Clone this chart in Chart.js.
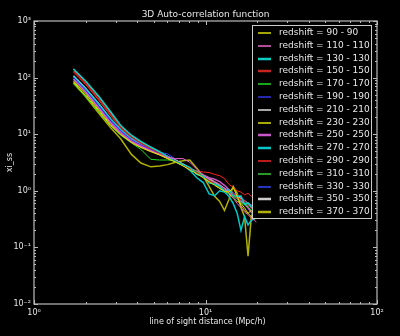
<!DOCTYPE html>
<html lang="en">
<head>
  <meta charset="UTF-8">
  <title>3D Auto-correlation function</title>
  <script src="https://cdn.jsdelivr.net/npm/chart.js"></script>
  <style>
    body { margin: 0; padding: 0; background: #000; }
    canvas { display: block; }
  </style>
</head>
<body>
  <canvas id="xiChart" width="400" height="336"></canvas>

  <script>
    // line of sight distance (Mpc/h), shared by every curve
    const distance = [1.7, 2.0, 2.4, 2.8, 3.2, 3.7, 4.2, 4.8, 5.4, 6.0, 6.7, 7.4, 8.1, 8.9,
                      9.7, 10.5, 11.3, 12.1, 12.9, 13.7, 14.5, 15.3, 16.1, 16.9, 17.7, 18.5, 19.3, 19.8];

    const redshifts = [90, 110, 130, 150, 170, 190, 210, 230, 250, 270, 290, 310, 330, 350, 370];

    // xi_ss for each redshift slice
    const xi90  = [82, 48, 25, 14.2, 9.8, 7.1, 5.8, 4.9, 4.3, 3.7, 3.2, 2.75, 2.35, 2.0, 1.7, 1.45, 1.25, 1.1, 0.98, 0.95, 1.15, 0.8, 0.55, 0.45, 0.4, 0.35, 0.36, 0.38];
    const xi110 = [92, 55, 28, 15.5, 10.2, 7.3, 6.0, 5.0, 4.4, 3.9, 3.7, 3.7, 3.2, 2.4, 1.9, 1.6, 1.45, 1.3, 1.1, 0.92, 0.75, 0.6, 0.5, 0.42, 0.38, 0.33, 0.3, 0.28];
    const xi130 = [142, 87, 46, 25, 14.4, 9.6, 7.5, 5.9, 4.9, 4.0, 3.25, 2.9, 2.6, 1.96, 1.8, 1.38, 1.32, 1.22, 1.0, 1.03, 0.82, 0.8, 0.81, 0.58, 0.61, 0.52, 0.5, 0.44];
    const xi150 = [132, 80, 41, 22, 13.5, 9.0, 7.0, 5.6, 4.7, 4.0, 3.3, 2.85, 2.45, 2.1, 1.75, 1.5, 1.35, 1.2, 1.05, 0.95, 0.88, 0.76, 0.7, 0.66, 0.56, 0.5, 0.46, 0.42];
    const xi170 = [78, 46, 24, 14, 9.6, 7.0, 5.4, 3.6, 3.5, 3.5, 3.4, 2.9, 2.5, 2.2, 1.9, 1.6, 1.3, 1.15, 1.0, 0.9, 0.8, 0.72, 0.62, 0.58, 0.52, 0.45, 0.42, 0.4];
    const xi190 = [100, 60, 31, 17.5, 11.5, 8.0, 6.5, 5.4, 4.6, 4.1, 3.4, 2.9, 2.5, 2.1, 1.8, 1.55, 1.35, 1.2, 1.1, 0.98, 0.9, 0.85, 0.78, 0.68, 0.6, 0.55, 0.5, 0.48];
    const xi210 = [140, 86, 45, 24, 14, 9.3, 7.3, 5.8, 4.8, 4.1, 3.5, 3.0, 2.55, 2.15, 1.85, 1.6, 1.4, 1.25, 1.12, 1.0, 0.9, 0.82, 0.74, 0.67, 0.6, 0.55, 0.5, 0.47];
    const xi230 = [86, 51, 26, 14.8, 10, 7.2, 5.9, 5.0, 4.3, 3.75, 3.25, 2.8, 2.45, 2.1, 1.75, 1.5, 1.3, 1.1, 1.0, 0.88, 0.75, 0.65, 0.6, 0.5, 0.4, 0.45, 0.4, 0.38];
    const xi250 = [95, 57, 29, 16, 10.8, 7.6, 6.2, 5.2, 4.5, 3.8, 3.3, 2.85, 2.5, 2.2, 1.9, 1.7, 1.6, 1.45, 1.25, 1.05, 0.9, 0.75, 0.65, 0.58, 0.5, 0.42, 0.38, 0.36];
    const xi270 = [104, 63, 33, 18.5, 12, 8.4, 7.0, 5.9, 4.8, 4.0, 3.3, 2.9, 2.3, 1.7, 1.4, 0.88, 0.82, 1.0, 0.95, 0.8, 0.6, 0.4, 0.2, 0.35, 0.25, 0.3, 0.32, 0.35];
    const xi290 = [125, 76, 39, 21, 13, 8.6, 6.8, 5.5, 4.6, 3.9, 3.3, 2.8, 2.4, 2.2, 2.15, 2.1, 1.95, 1.85, 1.65, 1.3, 1.15, 1.0, 0.95, 0.85, 0.9, 0.8, 0.7, 0.65];
    const xi310 = [88, 53, 27, 15.5, 10.4, 7.4, 6.1, 5.1, 4.4, 3.8, 3.3, 2.8, 2.4, 2.05, 1.9, 1.7, 1.45, 1.25, 1.1, 0.95, 0.85, 0.82, 0.7, 0.6, 0.55, 0.5, 0.45, 0.42];
    const xi330 = [96, 58, 30, 16.5, 11, 7.8, 6.4, 5.3, 4.8, 4.5, 3.6, 2.9, 2.45, 2.05, 1.75, 1.5, 1.3, 1.15, 1.0, 0.9, 0.8, 0.72, 0.68, 0.6, 0.55, 0.5, 0.45, 0.42];
    const xi350 = [108, 65, 34, 18.5, 12, 8.2, 6.6, 5.5, 4.7, 4.0, 3.4, 2.9, 2.5, 2.1, 1.8, 1.6, 1.4, 1.22, 1.08, 0.98, 0.88, 0.78, 0.72, 0.66, 0.6, 0.55, 0.52, 0.5];
    const xi370 = [80, 46, 23, 13, 8.3, 4.4, 3.1, 2.65, 2.75, 2.9, 3.2, 3.4, 3.5, 2.5, 1.8, 1.2, 0.8, 0.65, 0.45, 0.7, 1.2, 0.9, 0.5, 0.35, 0.07, 0.35, 0.5, 0.45];

    const xiSeries = [xi90, xi110, xi130, xi150, xi170, xi190, xi210, xi230,
                      xi250, xi270, xi290, xi310, xi330, xi350, xi370];

    const colors = ['#dddd00', '#ee66cc', '#00d0c0', '#cc2222', '#22dd22', '#3333ee', '#e0e0e0', '#e0e000',
                    '#cc55cc', '#00c8c8', '#ff2222', '#33cc33', '#3344ff', '#cccccc', '#b0b000'];
    const widths = [1, 1, 1.5, 1.5, 1, 1, 1, 1, 1.5, 1.5, 1, 1, 1, 1.5, 1.5];

    const FONT = 'DejaVu Sans';
    const TXT = '#e8e8e8';
    const SUP = { '-': '\u207b', '0': '\u2070', '1': '\u00b9', '2': '\u00b2', '3': '\u00b3' };

    function isDecade(v) {
      const l = Math.log10(v);
      return Math.abs(l - Math.round(l)) < 1e-9;
    }
    function decadeLabel(v) {
      if (!isDecade(v)) return '';
      const e = String(Math.round(Math.log10(v)));
      return '10' + e.split('').map(c => SUP[c]).join('');
    }
    function logTicks(lo, hi) {
      const out = [];
      for (let e = lo; e < hi; e++) {
        for (let m = 1; m < 10; m++) out.push({ value: m * Math.pow(10, e) });
      }
      out.push({ value: Math.pow(10, hi) });
      return out;
    }

    // frame with inward ticks, legend inside the axes, title and axis labels
    const decorations = {
      id: 'decorations',
      beforeDraw(chart) {
        const ctx = chart.ctx;
        ctx.save();
        ctx.fillStyle = '#000';
        ctx.fillRect(0, 0, chart.width, chart.height);
        ctx.restore();
      },
      afterDatasetsDraw(chart) {
        const { ctx, chartArea: a, scales: { x, y } } = chart;
        ctx.save();

        // axes frame
        ctx.strokeStyle = '#bbbbbb';
        ctx.lineWidth = 1.2;
        ctx.strokeRect(a.left, a.top, a.right - a.left, a.bottom - a.top);

        // ticks pointing inward on all four sides
        ctx.lineWidth = 1;
        ctx.beginPath();
        x.ticks.forEach(t => {
          const px = Math.round(x.getPixelForValue(t.value)) + 0.5;
          const len = isDecade(t.value) ? 4 : 2;
          ctx.moveTo(px, a.bottom); ctx.lineTo(px, a.bottom - len);
          ctx.moveTo(px, a.top); ctx.lineTo(px, a.top + len);
        });
        y.ticks.forEach(t => {
          const py = Math.round(y.getPixelForValue(t.value)) + 0.5;
          const len = isDecade(t.value) ? 4 : 2;
          ctx.moveTo(a.left, py); ctx.lineTo(a.left + len, py);
          ctx.moveTo(a.right, py); ctx.lineTo(a.right - len, py);
        });
        ctx.stroke();

        // legend box
        const lx = 252, ly = 25, lw = 119, lh = 193, row = 12.8;
        ctx.fillStyle = '#000';
        ctx.fillRect(lx, ly, lw, lh);
        ctx.strokeStyle = '#cccccc';
        ctx.lineWidth = 1;
        ctx.strokeRect(lx + 0.5, ly + 0.5, lw, lh);
        ctx.font = '9px "' + FONT + '"';
        ctx.textAlign = 'left';
        ctx.textBaseline = 'middle';
        chart.data.datasets.forEach((ds, i) => {
          const ry = Math.round(ly + 8 + i * row);
          ctx.strokeStyle = ds.borderColor;
          ctx.lineWidth = ds.borderWidth > 1 ? 2.5 : 1.5;
          ctx.beginPath();
          ctx.moveTo(lx + 6, ry);
          ctx.lineTo(lx + 19, ry);
          ctx.stroke();
          ctx.fillStyle = TXT;
          ctx.fillText(ds.label, lx + 27, ry);
        });

        // title and axis labels
        ctx.fillStyle = TXT;
        ctx.textAlign = 'center';
        ctx.font = '9px "' + FONT + '"';
        ctx.fillText('3D Auto-correlation function', (a.left + a.right) / 2, 14.5);
        ctx.font = '8px "' + FONT + '"';
        ctx.fillText('line of sight distance (Mpc/h)', (a.left + a.right) / 2 + 2, 322);
        ctx.translate(10, (a.top + a.bottom) / 2);
        ctx.rotate(-Math.PI / 2);
        ctx.fillText('xi_ss', 0, 0);
        ctx.restore();
      }
    };

    const tickFont = { family: FONT, size: 8 };

    new Chart(document.getElementById('xiChart'), {
      type: 'scatter',
      data: {
        datasets: redshifts.map((z, i) => ({
          label: `redshift = ${z} - ${z}`,
          data: distance.map((d, j) => ({ x: d, y: xiSeries[i][j] })),
          showLine: true,
          borderColor: colors[i],
          borderWidth: widths[i],
          pointRadius: 0,
          fill: false,
          tension: 0
        }))
      },
      options: {
        responsive: false,
        animation: false,
        devicePixelRatio: 1,
        layout: { padding: { top: 21, right: 23, left: 0, bottom: 0 } },
        plugins: {
          legend: { display: false },
          title: { display: false },
          tooltip: { enabled: false }
        },
        scales: {
          x: {
            type: 'logarithmic',
            min: 1,
            max: 100,
            grid: { display: false, drawTicks: false },
            border: { display: false },
            afterBuildTicks: s => { s.ticks = logTicks(0, 2); },
            afterFit: s => { s.height = 32; },
            ticks: {
              color: TXT, font: tickFont, padding: 4,
              autoSkip: false, maxRotation: 0,
              callback: v => decadeLabel(v)
            }
          },
          y: {
            type: 'logarithmic',
            min: 0.01,
            max: 1000,
            grid: { display: false, drawTicks: false },
            border: { display: false },
            afterBuildTicks: s => { s.ticks = logTicks(-2, 3); },
            afterFit: s => { s.width = 34; },
            ticks: {
              color: TXT, font: tickFont, padding: 3,
              autoSkip: false,
              callback: v => decadeLabel(v)
            }
          }
        }
      },
      plugins: [decorations]
    });
  </script>
</body>
</html>
